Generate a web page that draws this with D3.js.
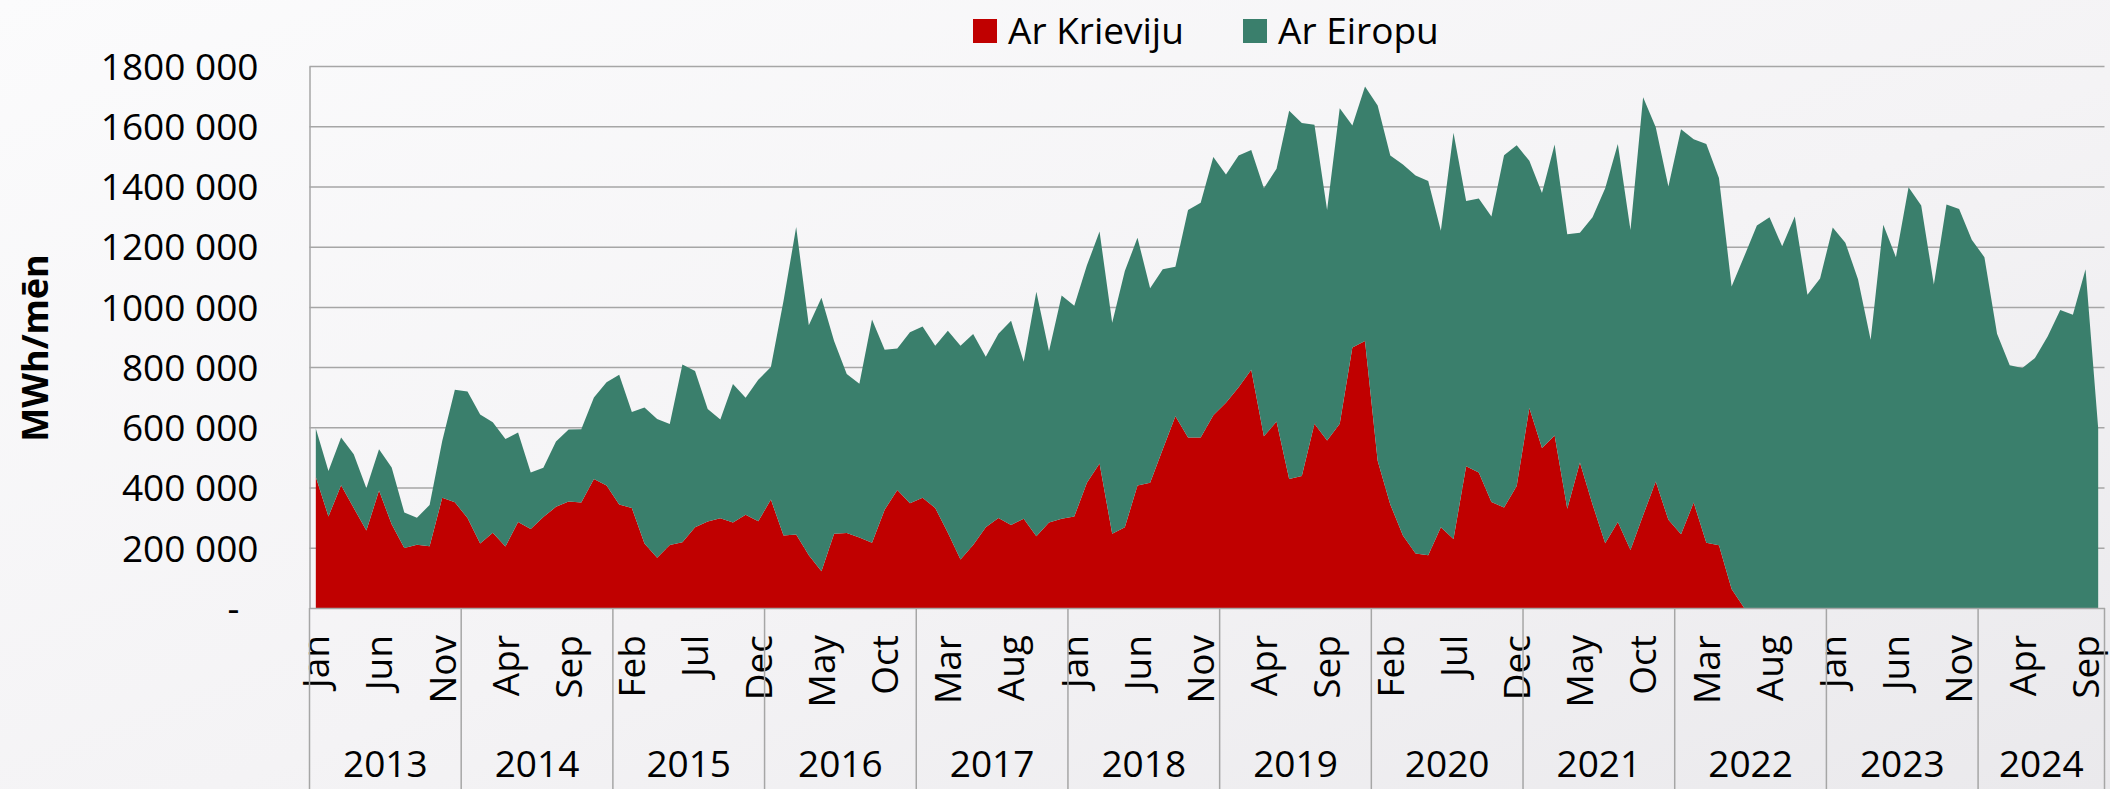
<!DOCTYPE html>
<html>
<head>
<meta charset="utf-8">
<script src="https://cdn.jsdelivr.net/npm/d3@7"></script>
<style>
  html, body { margin: 0; padding: 0; }
  body { width: 2110px; height: 789px; overflow: hidden; }
  text { font-family: "Open Sans", sans-serif; fill: #000; }
</style>
</head>
<body>
<svg id="chart"></svg>
<script>
// monthly gas import, thousand MWh, Jan 2013 .. Oct 2024
const monthNames = ["Jan", "Feb", "Mar", "Apr", "May", "Jun", "Jul", "Aug", "Sep", "Oct", "Nov", "Dec"];
const years = [2013, 2014, 2015, 2016, 2017, 2018, 2019, 2020, 2021, 2022, 2023, 2024];

const russia = [
  435, 304, 408, 332, 257, 390, 278, 199, 210, 205, 366, 351,
  299, 214, 250, 204, 286, 262, 302, 336, 354, 350, 428, 407,
  344, 332, 214, 167, 209, 218, 268, 287, 298, 284, 310, 288,
  360, 241, 244, 175, 122, 247, 249, 234, 217, 326, 392, 348,
  366, 332, 250, 161, 209, 268, 299, 276, 296, 238, 284, 296,
  304, 416, 480, 247, 268, 407, 416, 527, 637, 566, 566, 640,
  682, 733, 791, 570, 619, 428, 438, 612, 556, 612, 865, 887,
  489, 344, 241, 181, 175, 268, 229, 471, 450, 352, 334, 405,
  664, 531, 573, 330, 483, 344, 215, 286, 193, 308, 420, 293,
  245, 350, 217, 208, 63, 0, 0, 0, 0, 0, 0, 0,
  0, 0, 0, 0, 0, 0, 0, 0, 0, 0, 0, 0,
  0, 0, 0, 0, 0, 0, 0, 0, 0, 0
];

const europe = [
  161, 151, 158, 179, 141, 137, 189, 118, 90, 137, 189, 374,
  420, 429, 367, 357, 297, 188, 164, 217, 239, 244, 271, 343,
  431, 319, 452, 461, 402, 591, 519, 374, 328, 460, 388, 470,
  440, 779, 1021, 764, 908, 640, 528, 511, 741, 532, 470, 568,
  569, 539, 671, 710, 701, 566, 612, 678, 522, 812, 569, 742,
  700, 722, 770, 700, 851, 823, 646, 598, 496, 756, 780, 858,
  758, 770, 730, 824, 840, 1223, 1173, 993, 766, 1048, 737, 845,
  1180, 1159, 1232, 1255, 1243, 985, 1349, 881, 910, 948, 1170, 1132,
  821, 847, 966, 911, 763, 954, 1179, 1255, 1062, 1388, 1177, 1107,
  1345, 1207, 1324, 1220, 1005, 1168, 1270, 1298, 1201, 1300, 1040, 1094,
  1264, 1213, 1092, 891, 1273, 1165, 1397, 1337, 1074, 1340, 1325, 1223,
  1165, 911, 806, 797, 830, 902, 990, 974, 1125, 597
];

const yTicks = [0, 200, 400, 600, 800, 1000, 1200, 1400, 1600, 1800];
const seriesKeys = ["russia", "europe"];
const seriesNames = ["Ar Krieviju", "Ar Eiropu"];
const seriesColors = ["#c00000", "#3a7f6c"];

class StackedAreaGraph {
    constructor(id, width, height) {
        this.id = id;
        this.width = width;
        this.height = height;
        this.svg = d3.select(this.id).attr("width", this.width).attr("height", this.height);
    }

    draw() {
        const left = 309.5, right = 2104.5, top = 66, bottom = 608;
        const fontSize = 37;

        // background, light grey that gets a bit darker to the lower right
        const defs = this.svg.append("defs");
        const grad = defs.append("linearGradient").attr("id", "bg")
            .attr("x1", "0").attr("y1", "0").attr("x2", "1").attr("y2", "1");
        grad.append("stop").attr("offset", "0%").attr("stop-color", "#fbfbfc");
        grad.append("stop").attr("offset", "55%").attr("stop-color", "#f4f3f5");
        grad.append("stop").attr("offset", "100%").attr("stop-color", "#eae9ec");
        this.svg.append("rect").attr("width", this.width).attr("height", this.height).attr("fill", "url(#bg)");

        // one row per month
        const rows = russia.map((r, i) => ({ i: i, russia: r, europe: europe[i] }));

        const xScale = d3.scaleBand()
            .domain(rows.map(d => d.i))
            .range([left, right])
            .padding(0);
        const xMid = i => xScale(i) + xScale.bandwidth() / 2;

        const yScale = d3.scaleLinear()
            .domain([0, 1800])
            .range([bottom, top]);

        // gridlines
        const grid = d3.axisLeft(yScale).tickValues(yTicks.filter(t => t > 0))
            .tickSize(-(right - left)).tickFormat("");
        this.svg.append("g")
            .attr("transform", `translate(${left},0)`)
            .call(grid)
            .call(g => g.select(".domain").remove())
            .call(g => g.selectAll("line").attr("stroke", "#a6a6a6").attr("stroke-width", 1.5));

        // stacked areas
        const stacked = d3.stack().keys(seriesKeys)(rows);
        const area = d3.area()
            .x(d => xMid(d.data.i))
            .y0(d => yScale(d[0]))
            .y1(d => yScale(d[1]));
        this.svg.append("g").selectAll("path")
            .data(stacked)
            .enter()
            .append("path")
            .attr("d", area)
            .attr("fill", (d, k) => seriesColors[k]);

        // value axis
        const y_axis = d3.axisLeft(yScale).tickValues(yTicks).tickSize(0).tickPadding(51)
            .tickFormat(d => d === 0 ? "-" : `${d} 000`);
        this.svg.append("g")
            .attr("transform", `translate(${left},0)`)
            .call(y_axis)
            .call(g => g.select(".domain").attr("stroke", "#a6a6a6").attr("stroke-width", 1.5))
            .call(g => g.selectAll("text")
                .attr("font-size", fontSize)
                .attr("font-family", "'Open Sans', sans-serif")
                .attr("fill", "#000")
                .attr("dy", "0.36em")
                .filter(d => d === 0).attr("x", -70));

        // category axis: month labels every 5th month
        const monthTicks = rows.map(d => d.i).filter(i => i % 5 === 0);
        const x_axis = d3.axisBottom(xScale).tickValues(monthTicks).tickSize(0)
            .tickFormat(i => monthNames[i % 12]);
        this.svg.append("g")
            .attr("transform", `translate(0,${bottom})`)
            .call(x_axis)
            .call(g => g.select(".domain").attr("stroke", "#a6a6a6").attr("stroke-width", 1.5))
            .call(g => g.selectAll("text")
                .attr("font-size", fontSize)
                .attr("font-family", "'Open Sans', sans-serif")
                .attr("fill", "#000")
                .attr("transform", "rotate(-90)")
                .attr("text-anchor", "end")
                .attr("x", -27)
                .attr("y", 0)
                .attr("dy", "0.36em"));

        // year groups: separators + labels
        const yearEdges = years.map((y, k) => xScale(k * 12)).concat([right]);
        this.svg.append("g").selectAll("line")
            .data(yearEdges)
            .enter()
            .append("line")
            .attr("x1", d => d).attr("x2", d => d)
            .attr("y1", bottom).attr("y2", this.height)
            .attr("stroke", "#a6a6a6").attr("stroke-width", 1.5);

        this.svg.append("g").selectAll("text")
            .data(years)
            .enter()
            .append("text")
            .attr("x", (y, k) => (yearEdges[k] + yearEdges[k + 1]) / 2)
            .attr("y", 777)
            .attr("text-anchor", "middle")
            .attr("font-size", fontSize)
            .text(d => d);

        // axis title
        this.svg.append("text")
            .attr("transform", "translate(48,348) rotate(-90)")
            .attr("text-anchor", "middle")
            .attr("font-size", 36)
            .attr("font-weight", "bold")
            .text("MWh/mēn");

        // legend
        const legendX = [973, 1243];
        const legend = this.svg.append("g").selectAll("g")
            .data(seriesNames)
            .enter()
            .append("g")
            .attr("transform", (d, k) => `translate(${legendX[k]},19)`);
        legend.append("rect")
            .attr("width", 24).attr("height", 24)
            .attr("fill", (d, k) => seriesColors[k]);
        legend.append("text")
            .attr("x", 35).attr("y", 12)
            .attr("dy", "0.36em")
            .attr("font-size", fontSize)
            .text(d => d);
    }
}

new StackedAreaGraph("#chart", 2110, 789).draw();
</script>
</body>
</html>
